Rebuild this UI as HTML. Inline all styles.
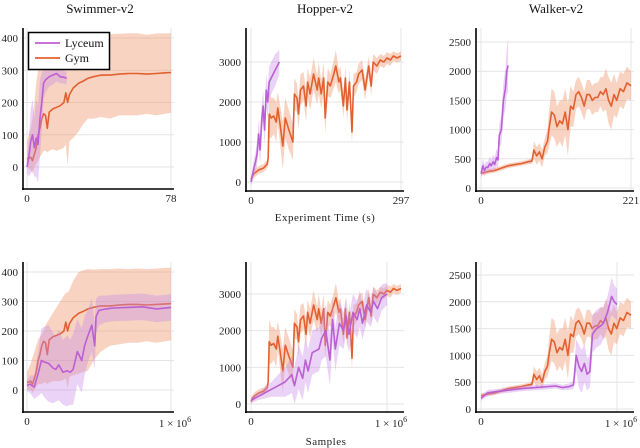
<!DOCTYPE html>
<html><head><meta charset="utf-8"><style>
html,body{margin:0;padding:0;background:#fff;}
svg{display:block;font-family:"Liberation Serif",serif;}
</style></head><body>
<svg id="c" width="640" height="448" viewBox="0 0 640 448"></svg>
<script>
// ---- data ----
const swimGymT=[0,2,3,4,5,6,7,8,9,10,11,12,14,16,18,20,21,22,23,25,28,30,33,36,40,45,50,55,60,65,70,75,78];
const swimGymY=[25,30,20,40,60,100,120,150,165,160,120,170,180,185,190,200,230,200,225,245,260,265,275,280,285,285,288,290,290,288,290,292,293];
const swimGymLo=[0,-10,-20,0,10,20,30,40,50,50,45,50,55,50,55,60,70,5,80,90,110,130,150,150,155,150,160,160,160,165,160,165,168];
const swimGymHi=[80,120,150,200,260,300,330,360,390,400,400,405,410,410,415,415,415,410,410,410,410,410,412,410,415,412,413,415,415,410,414,415,415];
const swimGymSLo=[0,0,-10,0,10,20,20,20,25,25,20,25,30,30,30,35,40,5,45,50,55,60,65,100,130,150,155,160,160,165,160,165,168];
const swimGymSHi=[60,90,110,130,150,170,180,190,200,220,230,240,260,280,300,320,330,330,340,370,400,405,410,408,410,410,412,410,412,410,412,414,415];
const swimLyT=[0,1,2,3,4,5,6,7,8,9,10,12,14,16,18,20,21.5];
const swimLyY=[0,30,80,100,60,90,70,150,200,260,270,280,285,290,280,278,275];
const swimLySpread=[20,60,100,110,90,120,120,120,90,50,40,30,30,25,20,20,20];
const swimLyS=[0,0.02,0.05,0.08,0.1,0.12,0.15,0.18,0.2,0.22,0.25,0.28,0.3,0.32,0.35,0.38,0.4,0.42,0.45,0.47,0.48,0.5,0.55,0.6,0.7,0.8,0.9,1.0];
const swimLySY=[15,20,10,60,100,95,90,75,70,85,60,65,60,70,130,100,150,180,220,150,250,270,275,278,280,282,275,280];
const swimLySSpread=[20,30,40,80,110,120,130,120,110,120,110,120,110,120,110,110,100,90,90,80,60,50,45,45,45,45,45,45];

const hopGymT=[0,5,15,25,32,34,36,40,45,50,53,58,63,68,75,83,86,91,94,98,104,109,112,117,124,131,134,139,144,147,152,157,164,168,174,177,183,187,190,195,200,203,209,213,220,226,233,238,242,249,256,263,269,276,282,289,297];
const hopGymY=[70,200,300,350,450,600,1700,1600,1650,1500,1850,1400,900,1600,1300,1000,2200,2100,1700,2300,2400,1900,2500,2200,2700,2300,2600,2200,2600,1600,2500,2400,2700,2900,2500,2600,1900,2600,1800,2500,1250,2400,2500,2700,2800,2300,2900,2400,3000,2900,3050,3000,3100,3050,3150,3100,3150];
const hopGymSpread=[80,100,100,100,100,200,600,500,450,500,400,500,600,500,500,450,400,350,400,400,350,400,350,400,400,350,400,350,400,400,350,300,350,400,300,300,300,300,300,300,300,300,250,250,250,250,250,250,200,200,150,150,150,150,120,120,120];
const hopLyT=[0,5,9,12,15,18,21,24,27,30,33,36,40,44,48,52,56];
const hopLyY=[0,300,500,700,1200,800,1500,1900,1300,2300,2000,2500,2600,2700,2800,2900,3000];
const hopLySpread=[100,200,250,300,350,350,400,400,400,400,400,400,400,400,400,350,300];
const hopLyS=[0,0.05,0.1,0.15,0.2,0.25,0.3,0.32,0.35,0.38,0.4,0.42,0.45,0.5,0.52,0.55,0.58,0.6,0.62,0.65,0.68,0.7,0.72,0.75,0.78,0.8,0.82,0.85,0.88,0.9,0.93,0.96,1.0];
const hopLySY=[100,200,300,400,500,600,800,500,1000,700,1200,900,1400,1500,1800,2000,1200,2300,1500,2200,2000,2400,1900,2500,2300,2600,2200,2700,2500,2800,2600,2900,3000];
const hopLySSpread=[80,100,150,200,300,400,500,500,600,600,600,600,600,600,600,700,700,600,600,600,500,500,500,500,500,500,450,450,400,400,400,350,300];

const walkGymT=[0,10,20,30,40,50,60,70,75,78,82,86,90,94,98,100,104,108,112,116,120,124,128,132,136,140,144,148,152,156,160,164,168,172,176,180,184,188,192,196,200,205,210,215,221];
const walkGymY=[250,280,300,340,380,400,420,450,460,650,550,620,500,700,800,1000,1300,1250,1050,1150,1100,1300,1000,1400,1350,1600,1650,1550,1400,1600,1600,1500,1550,1550,1650,1600,1700,1500,1400,1600,1500,1700,1650,1800,1750];
const walkGymSpread=[40,40,40,40,40,40,40,40,50,150,150,150,150,150,200,300,400,400,350,350,400,400,450,350,300,250,250,250,250,250,250,250,250,250,250,300,350,400,400,350,300,300,300,280,250];
const walkLyT=[0,3,5,8,10,13,15,18,20,23,25,27,30,33,36,38,40];
const walkLyY=[250,380,300,360,350,420,380,450,400,520,480,900,1000,1500,1700,2000,2100];
const walkLySpread=[80,120,100,100,100,120,100,120,120,150,150,200,250,300,350,400,450];
const walkLyS=[0,0.05,0.1,0.2,0.3,0.4,0.5,0.55,0.6,0.65,0.68,0.7,0.72,0.74,0.76,0.78,0.8,0.82,0.85,0.88,0.9,0.93,0.96,0.98,1.0];
const walkLySY=[200,300,320,350,380,400,420,430,400,420,450,1000,800,700,850,650,700,1400,1500,1550,1600,1800,2100,2000,1950];
const walkLySSpread=[50,60,50,50,50,50,50,50,50,60,80,300,400,400,350,300,300,350,350,350,300,300,350,300,300];

const swimTotalSamples=1.0e6, swimTotalTime=78;
const hopTotalSamples=1.103e6, hopTotalTime=297;
const walkTotalSamples=1.103e6, walkTotalTime=221;

const ORANGE="#e2602f", OBAND="rgba(240,150,110,0.42)";
const PURPLE="#bb5fd3", PBAND="rgba(200,140,232,0.38)";

const NS="http://www.w3.org/2000/svg";
const svg=document.getElementById('c');
function mk(tag,attrs,parent){const e=document.createElementNS(NS,tag);for(const k in attrs)e.setAttribute(k,attrs[k]);(parent||svg).appendChild(e);return e;}

const panels=[
 {id:'swimmer-time',sx:23,top:28,sy:189,right:174,x0:27,x1:171,xv1:78,y0:167,y1:38,yv1:400,yt:[0,100,200,300,400],xt:['0','78'],title:'Swimmer-v2',tx:100},
 {id:'hopper-time',sx:246,top:28,sy:191,right:404,x0:251,x1:401,xv1:297,y0:182,y1:62,yv1:3000,yt:[0,1000,2000,3000],xt:['0','297'],title:'Hopper-v2',tx:325},
 {id:'walker-time',sx:476,top:28,sy:191,right:634,x0:481,x1:631,xv1:221,y0:188,y1:42,yv1:2500,yt:[0,500,1000,1500,2000,2500],xt:['0','221'],title:'Walker-v2',tx:556},
 {id:'swimmer-samples',sx:23,top:262,sy:412,right:174,x0:27,x1:171,xv1:1e6,y0:390,y1:272,yv1:400,yt:[0,100,200,300,400],xt:['0','1e6']},
 {id:'hopper-samples',sx:246,top:262,sy:412,right:404,x0:251,x1:387,xv1:1e6,y0:404,y1:294,yv1:3000,yt:[0,1000,2000,3000],xt:['0','1e6']},
 {id:'walker-samples',sx:476,top:262,sy:412,right:634,x0:481,x1:617,xv1:1e6,y0:409,y1:275,yv1:2500,yt:[0,500,1000,1500,2000,2500],xt:['0','1e6']}
];

function axes(p){
  const X=v=>p.x0+(v/p.xv1)*(p.x1-p.x0);
  const Y=v=>p.y0+(v/p.yv1)*(p.y1-p.y0);
  return {X,Y};
}

function drawPanel(p,series){
  const {X,Y}=axes(p);
  const g=mk('g',{});
  
  
  const cid='clip-'+p.id;
  const cp=mk('clipPath',{id:cid},g);
  mk('rect',{x:p.sx,y:p.top,width:p.right-p.sx,height:p.sy-p.top},cp);
  p.yt.forEach(v=>{
    const l=mk('line',{x1:p.sx,x2:p.right,y1:Y(v),y2:Y(v),stroke:'#e4e4e4','stroke-width':1},g);
    
    
    const t=mk('text',{x:p.sx-5,y:Y(v)+4,'text-anchor':'end','font-size':'11',fill:'#222'},g);
    
    
    t.textContent=String(v);
  });
  [0,p.xv1].forEach(v=>{
    const l=mk('line',{x1:X(v),x2:X(v),y1:p.top,y2:p.sy,stroke:'#e4e4e4','stroke-width':1},g);
    
    
  });
  const pg=mk('g',{'clip-path':'url(#'+cid+')'},g);
  series.forEach(s=>{
    const xs=s.x, ys=s.y;
    const lo=s.lo||ys.map((v,i)=>v-s.sp[i]);
    const hi=s.hi||ys.map((v,i)=>v+s.sp[i]);
    let d='';
    xs.forEach((x,i)=>{d+=(i?'L':'M')+X(x*s.k).toFixed(1)+','+Y(hi[i]).toFixed(1);});
    for(let i=xs.length-1;i>=0;i--)d+='L'+X(xs[i]*s.k).toFixed(1)+','+Y(lo[i]).toFixed(1);
    const band=mk('path',{d:d+'Z',fill:s.band,stroke:'none'},pg);
    
    
    let ld='';
    xs.forEach((x,i)=>{ld+=(i?'L':'M')+X(x*s.k).toFixed(1)+','+Y(ys[i]).toFixed(1);});
    const line=mk('path',{d:ld,fill:'none',stroke:s.color,'stroke-width':1.6,'stroke-linejoin':'round'},pg);
    
    
  });
  const ys=mk('line',{x1:p.sx,x2:p.sx,y1:p.top,y2:p.sy+1,stroke:'#000','stroke-width':1.6},g);
  
  
  const xsp=mk('line',{x1:p.sx-1,x2:p.right,y1:p.sy,y2:p.sy,stroke:'#000','stroke-width':1.6},g);
  
  
  const t0=mk('text',{x:X(0),y:p.sy+13,'text-anchor':'middle','font-size':'11',fill:'#222'},g);
  
  
  t0.textContent='0';
  if(p.xt[1]==='1e6'){
    const t1=mk('text',{x:X(p.xv1)+4,y:p.sy+15,'text-anchor':'middle','font-size':'11',fill:'#222'},g);
    
    
    t1.textContent='1 × 10';
    const sup=mk('tspan',{dy:'-5','font-size':'8'},t1);
    sup.textContent='6';
  } else {
    const t1=mk('text',{x:X(p.xv1),y:p.sy+13,'text-anchor':'middle','font-size':'11',fill:'#222'},g);
    
    
    t1.textContent=p.xt[1];
  }
  if(p.title){
    const tt=mk('text',{x:p.tx,y:13,'text-anchor':'middle','font-size':'13',fill:'#111'},g);
    
    
    tt.textContent=p.title;
  }
}

drawPanel(panels[0],[
 {name:'gym',x:swimGymT,y:swimGymY,lo:swimGymLo,hi:swimGymHi,k:1,color:ORANGE,band:OBAND},
 {name:'lyceum',x:swimLyT,y:swimLyY,sp:swimLySpread,k:1,color:PURPLE,band:PBAND}]);
drawPanel(panels[1],[
 {name:'gym',x:hopGymT,y:hopGymY,sp:hopGymSpread,k:1,color:ORANGE,band:OBAND},
 {name:'lyceum',x:hopLyT,y:hopLyY,sp:hopLySpread,k:1,color:PURPLE,band:PBAND}]);
drawPanel(panels[2],[
 {name:'gym',x:walkGymT,y:walkGymY,sp:walkGymSpread,k:1,color:ORANGE,band:OBAND},
 {name:'lyceum',x:walkLyT,y:walkLyY,sp:walkLySpread,k:1,color:PURPLE,band:PBAND}]);
drawPanel(panels[3],[
 {name:'gym',x:swimGymT,y:swimGymY,lo:swimGymSLo,hi:swimGymSHi,k:swimTotalSamples/swimTotalTime,color:ORANGE,band:OBAND},
 {name:'lyceum',x:swimLyS,y:swimLySY,sp:swimLySSpread,k:1e6,color:PURPLE,band:PBAND}]);
drawPanel(panels[4],[
 {name:'gym',x:hopGymT,y:hopGymY,sp:hopGymSpread,k:hopTotalSamples/hopTotalTime,color:ORANGE,band:OBAND},
 {name:'lyceum',x:hopLyS,y:hopLySY,sp:hopLySSpread,k:1e6,color:PURPLE,band:PBAND}]);
drawPanel(panels[5],[
 {name:'gym',x:walkGymT,y:walkGymY,sp:walkGymSpread,k:walkTotalSamples/walkTotalTime,color:ORANGE,band:OBAND},
 {name:'lyceum',x:walkLyS,y:walkLySY,sp:walkLySSpread,k:1e6,color:PURPLE,band:PBAND}]);

const xt1=mk('text',{x:325,y:221,'text-anchor':'middle','font-size':'11',fill:'#222','letter-spacing':'0.5'});


xt1.textContent='Experiment Time (s)';
const xt2=mk('text',{x:326,y:445,'text-anchor':'middle','font-size':'11',fill:'#222','letter-spacing':'0.5'});


xt2.textContent='Samples';

const lg=mk('g',{});


mk('rect',{x:28.5,y:32.5,width:81,height:37,fill:'#fff',stroke:'#000','stroke-width':1.5},lg);
const l1=mk('line',{x1:35,x2:60,y1:43,y2:43,stroke:PURPLE,'stroke-width':1.8},lg);


const lt1=mk('text',{x:65,y:47,'font-size':'12',fill:'#111'},lg);


lt1.textContent='Lyceum';
const l2=mk('line',{x1:35,x2:60,y1:58,y2:58,stroke:ORANGE,'stroke-width':1.8},lg);


const lt2=mk('text',{x:65,y:62,'font-size':'12',fill:'#111'},lg);


lt2.textContent='Gym';
</script>
</body></html>
